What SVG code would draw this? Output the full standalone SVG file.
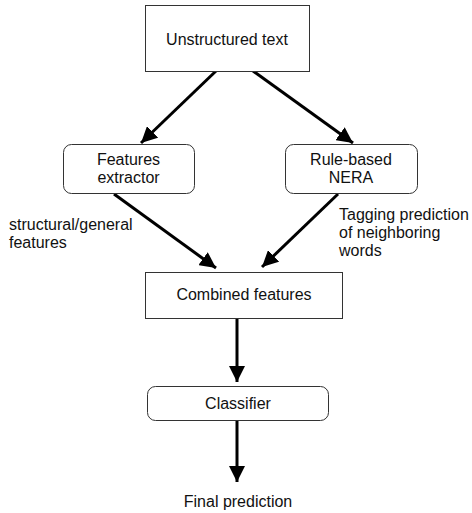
<svg xmlns="http://www.w3.org/2000/svg" width="472" height="513" viewBox="0 0 472 513">
<style>
.box{fill:#fff;stroke:#333;stroke-width:1}
.t{font-family:"Liberation Sans",Arial,sans-serif;font-size:16px;fill:#111}
.m{text-anchor:middle}
.c{stroke:#000;stroke-width:3;fill:none;marker-end:url(#ah)}
</style>
<defs>
<marker id="ah" markerUnits="userSpaceOnUse" markerWidth="18" markerHeight="16" refX="16" refY="8" orient="auto">
<path d="M0,0 L16,8 L0,16 Z" fill="#000"/>
</marker>
</defs>
<rect width="472" height="513" fill="#fff"/>
<g id="connectors">
<line class="c" x1="216" y1="71" x2="141" y2="143"/>
<line class="c" x1="253" y1="71" x2="353" y2="143"/>
<line class="c" x1="114" y1="194" x2="216" y2="268"/>
<line class="c" x1="338" y1="194" x2="262" y2="267"/>
<line class="c" x1="237" y1="318" x2="237" y2="382"/>
<line class="c" x1="237" y1="420" x2="237" y2="482"/>
</g>
<g id="unstructured">
<rect class="box" x="145.5" y="5.5" width="164" height="66"/>
<text class="t m" x="227" y="45">Unstructured text</text>
</g>
<g id="features-extractor">
<rect class="box" x="63.5" y="144.5" width="131" height="49" rx="8"/>
<text class="t m" x="128.5" y="165">Features</text>
<text class="t m" x="128.5" y="183">extractor</text>
</g>
<g id="rule-based">
<rect class="box" x="285.5" y="144.5" width="132" height="49" rx="8"/>
<text class="t m" x="351" y="165">Rule-based</text>
<text class="t m" x="351" y="183">NERA</text>
</g>
<g id="combined">
<rect class="box" x="145.5" y="272.5" width="197" height="46"/>
<text class="t m" x="244" y="300">Combined features</text>
</g>
<g id="classifier">
<rect class="box" x="147.5" y="386.5" width="181" height="34" rx="8"/>
<text class="t m" x="238" y="409">Classifier</text>
</g>
<g id="final">
<text class="t m" x="238" y="507">Final prediction</text>
</g>
<g id="labels">
<text class="t" x="9" y="230">structural/general</text>
<text class="t" x="9" y="248">features</text>
<text class="t" x="339" y="220">Tagging prediction</text>
<text class="t" x="339" y="238">of neighboring</text>
<text class="t" x="339" y="256">words</text>
</g>
</svg>
